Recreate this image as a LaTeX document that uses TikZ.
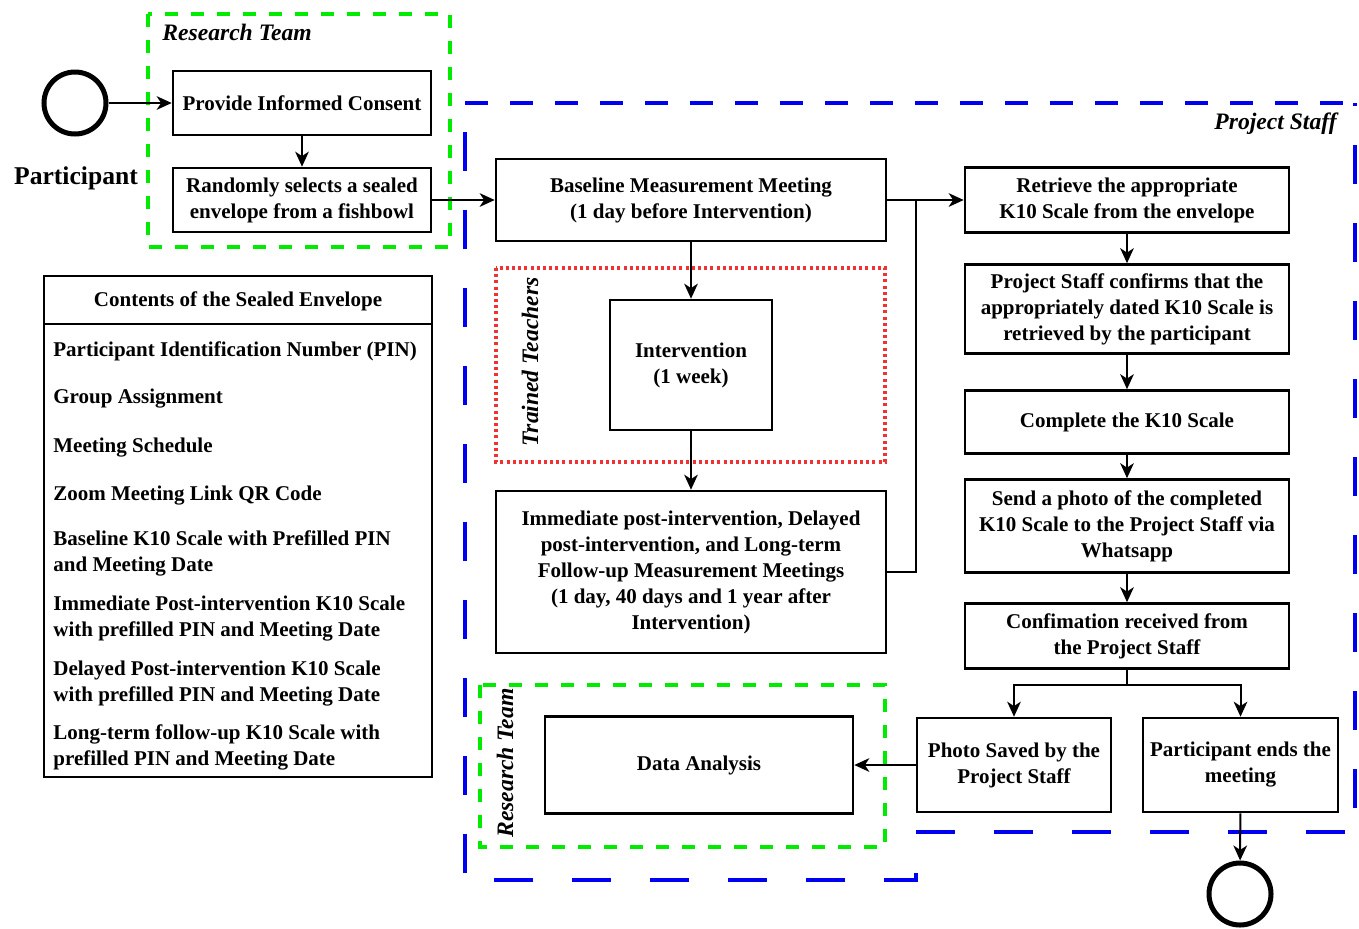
\documentclass[tikz,border=0pt]{standalone}
\usepackage{fontspec}
\setmainfont{Liberation Serif}
\usetikzlibrary{arrows.meta}
\definecolor{lgreen}{RGB}{0,235,0}
\definecolor{dblue}{RGB}{0,0,240}
\definecolor{lred}{RGB}{240,50,50}
\begin{document}
\begin{tikzpicture}[x=0.5pt,y=-0.5pt,
  box/.style={draw, line width=1.3pt, align=center, inner sep=0pt,
    font=\bfseries\fontsize{10.5}{13}\selectfont},
  txt/.style={inner sep=0pt, align=left, font=\bfseries\fontsize{10.5}{13}\selectfont},
  lbl/.style={inner sep=0pt, font=\bfseries\itshape\fontsize{11.8}{14}\selectfont},
  arr/.style={-{Stealth[length=7.5pt,width=6.8pt,inset=2.2pt]}, line width=1pt},
  ln/.style={line width=1pt},
  term/.style={circle, draw, line width=2.5pt, minimum size=31pt, inner sep=0pt},
  grn/.style={draw=lgreen, line width=2pt, dash pattern=on 6.5pt off 6.5pt},
  blu/.style={draw=dblue, line width=2pt},
  rdot/.style={draw=lred, line width=1.8pt, dash pattern=on 1.5pt off 1.6pt}
]
\useasboundingbox (0,0) rectangle (1359,928);

% group boundaries
\draw[blu, dash pattern=on 11.5pt off 11pt] (465,103) -- (1355,103);
\draw[blu, dash pattern=on 19.5pt off 19.5pt, dash phase=18pt] (1355,103) -- (1355,832);
\draw[blu, dash pattern=on 19.5pt off 19.5pt] (916,832) -- (1355,832);
\draw[blu, dash pattern=on 19.5pt off 19.5pt] (916,873) -- (916,880) -- (465,880);
\draw[blu, dash pattern=on 19.5pt off 19.5pt, dash phase=35.5pt] (465,880) -- (465,103);
\draw[grn] (148,14) rectangle (450,247);
\draw[grn] (480,685) rectangle (885,847);
\draw[rdot] (496,268) rectangle (885,462);

% labels
\node[lbl, anchor=west] (rt1) at (162,32) {Research Team};
\node[lbl, anchor=east] (ps) at (1337,124) {Project Staff};
\node[lbl, rotate=90] (tt) at (530,362) {Trained Teachers};
\node[lbl, rotate=90] (rt2) at (505,763) {Research Team};
\node[inner sep=0pt, font=\bfseries\fontsize{12.8}{15}\selectfont] (part) at (76,178) {Participant};

% start / end
\node[term] (start) at (75,103) {};
\node[term] (stop) at (1240,894) {};

% boxes
\node[box, minimum width=129pt, minimum height=32pt] (consent) at (302,103) {Provide Informed Consent};
\node[box, minimum width=129pt, minimum height=32pt] (select) at (302,200) {Randomly selects a sealed\\envelope from a fishbowl};
\node[box, minimum width=195pt, minimum height=41pt] (base) at (691,200) {Baseline Measurement Meeting\\(1 day before Intervention)};
\node[box, minimum width=81pt, minimum height=65pt] (interv) at (691,365) {Intervention\\(1 week)};
\node[box, minimum width=195pt, minimum height=81pt] (post) at (691,572) {Immediate post-intervention, Delayed\\post-intervention, and Long-term\\Follow-up Measurement Meetings\\(1 day, 40 days and 1 year after\\Intervention)};
\node[box, minimum width=162pt, minimum height=32.5pt] (retr) at (1127,200) {Retrieve the appropriate\\K10 Scale from the envelope};
\node[box, minimum width=162pt, minimum height=44.5pt] (conf) at (1127,309) {Project Staff confirms that the\\appropriately dated K10 Scale is\\retrieved by the participant};
\node[box, minimum width=162pt, minimum height=31.5pt] (compl) at (1127,422) {Complete the K10 Scale};
\node[box, minimum width=162pt, minimum height=46.5pt] (send) at (1127,526) {Send a photo of the completed\\K10 Scale to the Project Staff via\\Whatsapp};
\node[box, minimum width=162pt, minimum height=32.5pt] (recv) at (1127,636) {Confimation received from\\the Project Staff};
\node[box, minimum width=97pt, minimum height=47pt] (saved) at (1014,765) {Photo Saved by the\\Project Staff};
\node[box, minimum width=97.5pt, minimum height=47pt] (ends) at (1240.5,765) {Participant ends the\\meeting};
\node[box, minimum width=154pt, minimum height=48.5pt] (data) at (699,765) {Data Analysis};

% contents of the envelope
\node[box, minimum width=194pt, minimum height=250.5pt] (env) at (238,526.5) {};
\draw[line width=1.3pt] (44,324) -- (432,324);
\node[txt] (envh) at (238,301) {Contents of the Sealed Envelope};
\node[txt, anchor=west] (i1) at (53,351) {Participant Identification Number (PIN)};
\node[txt, anchor=west] (i2) at (53,399) {Group Assignment};
\node[txt, anchor=west] (i3) at (53,448) {Meeting Schedule};
\node[txt, anchor=west] (i4) at (53,496) {Zoom Meeting Link QR Code};
\node[txt, anchor=west] (i5) at (53,553.5) {Baseline K10 Scale with Prefilled PIN\\and Meeting Date};
\node[txt, anchor=west] (i6) at (53,618.5) {Immediate Post-intervention K10 Scale\\with prefilled PIN and Meeting Date};
\node[txt, anchor=west] (i7) at (53,683.5) {Delayed Post-intervention K10 Scale\\with prefilled PIN and Meeting Date};
\node[txt, anchor=west] (i8) at (53,747.5) {Long-term follow-up K10 Scale with\\prefilled PIN and Meeting Date};

% connectors
\coordinate (j) at (916,200);
\coordinate (br) at (1127,685);
\draw[arr] (start) -- (consent);
\draw[arr] (consent) -- (select);
\draw[arr] (select) -- (base);
\draw[arr] (base) -- (retr);
\draw[arr] (base) -- (interv);
\draw[arr] (interv) -- (post);
\draw[ln] (post.east) -| (j);
\draw[arr] (retr) -- (conf);
\draw[arr] (conf) -- (compl);
\draw[arr] (compl) -- (send);
\draw[arr] (send) -- (recv);
\draw[ln] (recv.south) -- (br);
\draw[arr] (br) -| (saved.north);
\draw[arr] (br) -| (ends.north);
\draw[arr] (saved) -- (data);
\draw[arr] (ends) -- (stop);
\end{tikzpicture}
\end{document}
